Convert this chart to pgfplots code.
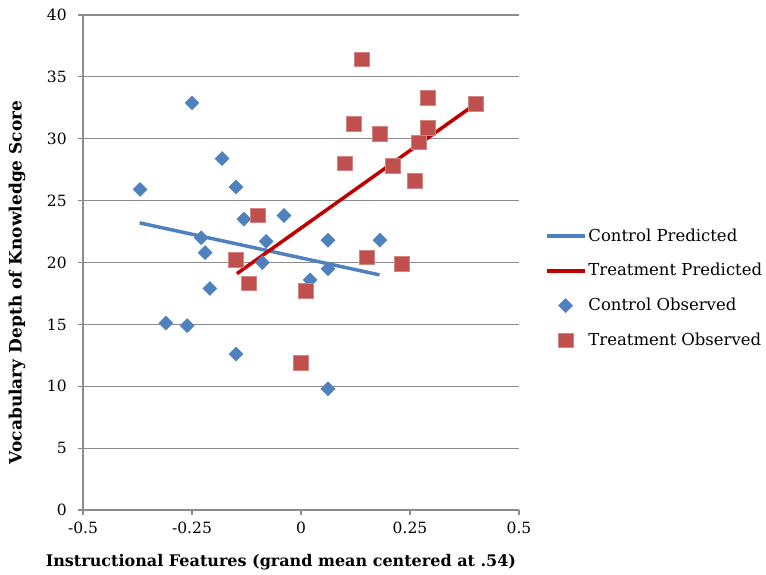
\documentclass[border=0pt]{standalone}
\usepackage{fontspec}
\setmainfont{DejaVu Serif}
\usepackage{pgfplots}
\pgfplotsset{compat=1.18}
\definecolor{cblue}{HTML}{4F81BD}
\definecolor{cred}{HTML}{C00000}
\definecolor{sred}{HTML}{C0504D}
\definecolor{gridc}{HTML}{8C8C8C}
\pgfplotsset{
  lineleg/.style={legend image code/.code={\draw[##1] (0pt,0pt) -- (38pt,0pt);}},
  markleg/.style={legend image code/.code={\draw[##1] plot coordinates {(19pt,0pt)};}},
}
\begin{document}
\fontsize{15.5}{19}\selectfont
\begin{tikzpicture}
\useasboundingbox (-83pt,-65pt) rectangle (683pt,510pt);
\begin{axis}[
  at={(0pt,0pt)}, anchor=south west,
  scale only axis, width=436pt, height=495pt,
  xmin=-0.5, xmax=0.5, ymin=0, ymax=40,
  xtick={-0.5,-0.25,0,0.25,0.5}, xticklabels={-0.5,-0.25,0,0.25,0.5},
  ytick={0,5,10,15,20,25,30,35,40}, yticklabels={0,5,10,15,20,25,30,35,40},
  axis lines*=left,
  ymajorgrids,
  grid style={gridc, line width=1.2pt},
  axis line style={gridc, line width=1.2pt},
  tick style={gridc, line width=1.2pt},
  tick align=outside, major tick length=5pt,
  tick label style={font=\fontsize{15.5}{19}\selectfont},
  yticklabel style={xshift=-6pt},
  xticklabel style={yshift=-2pt},
  clip=false,
  xlabel={\bfseries Instructional Features (grand mean centered at .54)},
  ylabel={\bfseries Vocabulary Depth of Knowledge Score},
  xlabel style={font=\fontsize{16}{19}\selectfont, at={(axis description cs:0.454,0)}, anchor=center, yshift=-52pt},
  ylabel style={font=\fontsize{17}{19}\selectfont, at={(axis description cs:0,0.46)}, anchor=center, yshift=66pt},
  legend style={draw=none, fill=none, at={(1.052,0.448)}, anchor=west,
    font=\fontsize{16.5}{19}\selectfont, row sep=16pt},
  legend cell align=left,
]
\addplot[cblue, line width=3.5pt, no marks, lineleg]
  coordinates {(-0.37,23.2) (0.18,19.0)};
\addlegendentry{Control Predicted}
\addplot[cred, line width=3.5pt, no marks, lineleg]
  coordinates {(-0.147,19.1) (0.40,32.8)};
\addlegendentry{Treatment Predicted}
\addplot[only marks, mark=square*, mark size=5pt, mark options={rotate=45, fill=cblue, draw=cblue}, markleg]
  coordinates {
  (-0.369,25.9) (-0.25,32.9) (-0.181,28.4) (-0.149,26.1) (-0.131,23.5)
  (-0.039,23.8) (-0.229,22.0) (-0.22,20.8) (-0.080,21.7) (-0.089,20.0)
  (-0.209,17.9) (-0.310,15.1) (-0.261,14.9) (-0.149,12.6) (0.021,18.6)
  (0.062,21.8) (0.062,19.5) (0.062,9.8) (0.181,21.8)};
\addlegendentry{Control Observed}
\addplot[only marks, mark=square*, mark size=7.3pt, mark options={fill=sred, draw=sred!70!white, line width=0.8pt}, markleg]
  coordinates {
  (0.140,36.4) (0.122,31.2) (0.181,30.4) (0.101,28.0) (0.291,33.3)
  (0.291,30.9) (0.271,29.7) (0.211,27.8) (0.261,26.6) (0.401,32.8)
  (-0.099,23.8) (-0.149,20.2) (-0.119,18.3) (0.151,20.4) (0.232,19.9)
  (0.011,17.7) (0.0,11.9)};
\addlegendentry{Treatment Observed}
\end{axis}
\end{tikzpicture}
\end{document}
